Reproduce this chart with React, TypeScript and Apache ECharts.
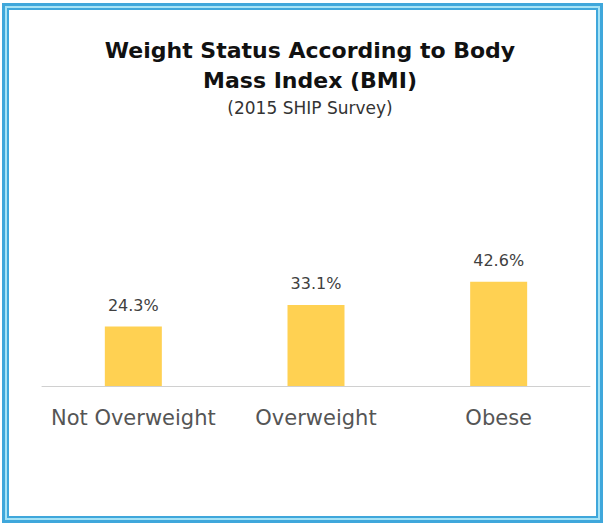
import React, { useEffect, useRef } from "react";
import * as echarts from "echarts";

const categories = ["Not Overweight", "Overweight", "Obese"];
const values = [24.3, 33.1, 42.6];
const titleLines = ["Weight Status According to Body", "Mass Index (BMI)"];
const subtitle = "(2015 SHIP Survey)";

export default function App() {
  const ref = useRef<HTMLDivElement>(null);
  useEffect(() => {
    if (!ref.current) return;
    const chart = echarts.init(ref.current, undefined, { renderer: "svg" });
    chart.setOption({
      animation: false,
      backgroundColor: "transparent",
      graphic: [
        {
          type: "text",
          x: 310,
          y: 50,
          style: {
            text: titleLines[0],
            fill: "#111",
            font: "bold 22px 'DejaVu Sans'",
            textAlign: "center",
            textVerticalAlign: "middle",
          },
        },
        {
          type: "text",
          x: 310,
          y: 80,
          style: {
            text: titleLines[1],
            fill: "#111",
            font: "bold 22px 'DejaVu Sans'",
            textAlign: "center",
            textVerticalAlign: "middle",
          },
        },
        {
          type: "text",
          x: 310,
          y: 108,
          style: {
            text: subtitle,
            fill: "#333",
            font: "17px 'DejaVu Sans'",
            textAlign: "center",
            textVerticalAlign: "middle",
          },
        },
      ],
      grid: { left: 42, right: 15, top: 141, bottom: 139, containLabel: false },
      xAxis: {
        type: "category",
        data: categories,
        axisLine: { lineStyle: { color: "#d0d0d0", width: 1 } },
        axisTick: { show: false },
        axisLabel: {
          color: "#555",
          fontSize: 21,
          fontFamily: "DejaVu Sans",
          margin: 21,
          interval: 0,
        },
      },
      yAxis: {
        type: "value",
        min: 0,
        max: 100,
        show: false,
        splitLine: { show: false },
      },
      series: [
        {
          type: "bar",
          data: values,
          barWidth: 57,
          itemStyle: { color: "#FFD152" },
          label: {
            show: true,
            position: "top",
            distance: 13,
            color: "#404040",
            fontSize: 16,
            fontFamily: "DejaVu Sans",
            formatter: (p: any) => p.value.toFixed(1) + "%",
          },
        },
      ],
    });
    return () => chart.dispose();
  }, []);

  return (
    <div style={{ position: "fixed", left: 0, top: 0, width: 605, height: 525, background: "#fff" }}>
      <div
        style={{
          position: "absolute",
          left: 2,
          top: 3,
          width: 601,
          height: 520,
          boxSizing: "border-box",
          border: "3px solid #3fa7db",
          background: "#a6e3f6",
          padding: 2,
        }}
      >
        <div
          style={{
            width: "100%",
            height: "100%",
            boxSizing: "border-box",
            border: "2px solid #3fa7db",
            background: "#fff",
          }}
        />
      </div>
      <div ref={ref} style={{ position: "absolute", left: 0, top: 0, width: 605, height: 525 }} />
    </div>
  );
}
